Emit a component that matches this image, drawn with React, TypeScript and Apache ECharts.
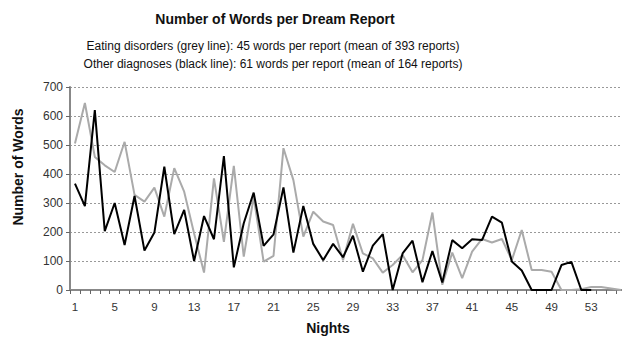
import React, { useEffect, useRef } from "react";
import * as echarts from "echarts";

const nights: string[] = [
  "1","2","3","4","5","6","7","8","9","10","11","12","13","14","15","16","17","18","19","20",
  "21","22","23","24","25","26","27","28","29","30","31","32","33","34","35","36","37","38","39","40",
  "41","42","43","44","45","46","47","48","49","50","51","52","53","54","55","56",
];

const eatingDisorders: (number | null)[] = [
  505, 645, 459, 430, 407, 511, 328, 305, 353, 253,
  420, 339, 195, 60, 385, 166, 428, 115, 320, 98,
  118, 489, 379, 184, 270, 236, 224, 103, 228, 126,
  109, 60, 86, 121, 61, 103, 267, 18, 129, 41,
  132, 176, 164, 176, 103, 207, 69, 69, 63, 0,
  0, 3, 10, 10, 5, 0,
];

const otherDiagnoses: (number | null)[] = [
  367, 289, 620, 203, 300, 155, 324, 136, 198, 425,
  193, 276, 100, 255, 175, 462, 78, 230, 336, 152,
  192, 354, 129, 290, 159, 103, 159, 113, 187, 63,
  153, 193, 0, 126, 170, 27, 134, 26, 172, 144,
  175, 172, 253, 232, 98, 67, 0, 0, 0, 86,
  97, 0, 0, null, null, null,
];

const titleText = "Number of Words per Dream Report";
const subLine1 = "Eating disorders (grey line): 45 words per report (mean of 393 reports)";
const subLine2 = "Other diagnoses (black line): 61 words per report (mean of 164 reports)";
const xAxisName = "Nights";
const yAxisName = "Number of Words";

const FONT = "'Liberation Sans', Arial, sans-serif";

export default function App() {
  const ref = useRef<HTMLDivElement>(null);
  useEffect(() => {
    document.body.style.margin = "0";
    if (!ref.current) return;
    const chart = echarts.init(ref.current, null, { renderer: "svg" });
    chart.setOption({
      animation: false,
      backgroundColor: "#ffffff",
      graphic: [
        {
          type: "text",
          x: 275,
          y: 19,
          style: {
            text: titleText,
            textAlign: "center",
            textVerticalAlign: "middle",
            fontFamily: FONT,
            fontWeight: "bold",
            fontSize: 14,
            fill: "#111",
          },
        },
        {
          type: "text",
          x: 273,
          y: 46,
          style: {
            text: subLine1,
            textAlign: "center",
            textVerticalAlign: "middle",
            fontFamily: FONT,
            fontSize: 12,
            fill: "#111",
          },
        },
        {
          type: "text",
          x: 273,
          y: 64,
          style: {
            text: subLine2,
            textAlign: "center",
            textVerticalAlign: "middle",
            fontFamily: FONT,
            fontSize: 12,
            fill: "#111",
          },
        },
        {
          type: "text",
          x: 328,
          y: 328,
          style: {
            text: xAxisName,
            textAlign: "center",
            textVerticalAlign: "middle",
            fontFamily: FONT,
            fontWeight: "bold",
            fontSize: 14,
            fill: "#111",
          },
        },
        {
          type: "text",
          x: 18,
          y: 167,
          rotation: Math.PI / 2,
          style: {
            text: yAxisName,
            textAlign: "center",
            textVerticalAlign: "middle",
            fontFamily: FONT,
            fontWeight: "bold",
            fontSize: 14,
            fill: "#111",
          },
        },
      ],
      grid: { left: 70, top: 87, width: 556, height: 203, outerBoundsMode: "none", containLabel: false },
      xAxis: {
        type: "category",
        data: nights,
        boundaryGap: true,
        axisLine: { show: true, lineStyle: { color: "#888", width: 2 } },
        axisTick: { show: true, interval: 0, length: 4, lineStyle: { color: "#666" } },
        axisLabel: { interval: 3, margin: 11, fontFamily: FONT, fontSize: 11.5, color: "#333" },
        splitLine: { show: false },
      },
      yAxis: {
        type: "value",
        min: 0,
        max: 700,
        interval: 100,
        axisLine: { show: true, lineStyle: { color: "#888", width: 2 } },
        axisTick: { show: true, length: 4, lineStyle: { color: "#666" } },
        axisLabel: { margin: 7, fontFamily: FONT, fontSize: 12, color: "#333" },
        splitLine: { show: true, lineStyle: { color: "#999", type: [2, 2], width: 1 } },
      },
      series: [
        {
          name: "Eating disorders",
          type: "line",
          data: eatingDisorders,
          symbol: "none",
          lineStyle: { color: "#aaaaaa", width: 2 },
          itemStyle: { color: "#aaaaaa" },
        },
        {
          name: "Other diagnoses",
          type: "line",
          data: otherDiagnoses,
          symbol: "none",
          lineStyle: { color: "#000000", width: 2 },
          itemStyle: { color: "#000000" },
        },
      ],
    });
    return () => chart.dispose();
  }, []);
  return <div ref={ref} style={{ width: 622, height: 337 }} />;
}
